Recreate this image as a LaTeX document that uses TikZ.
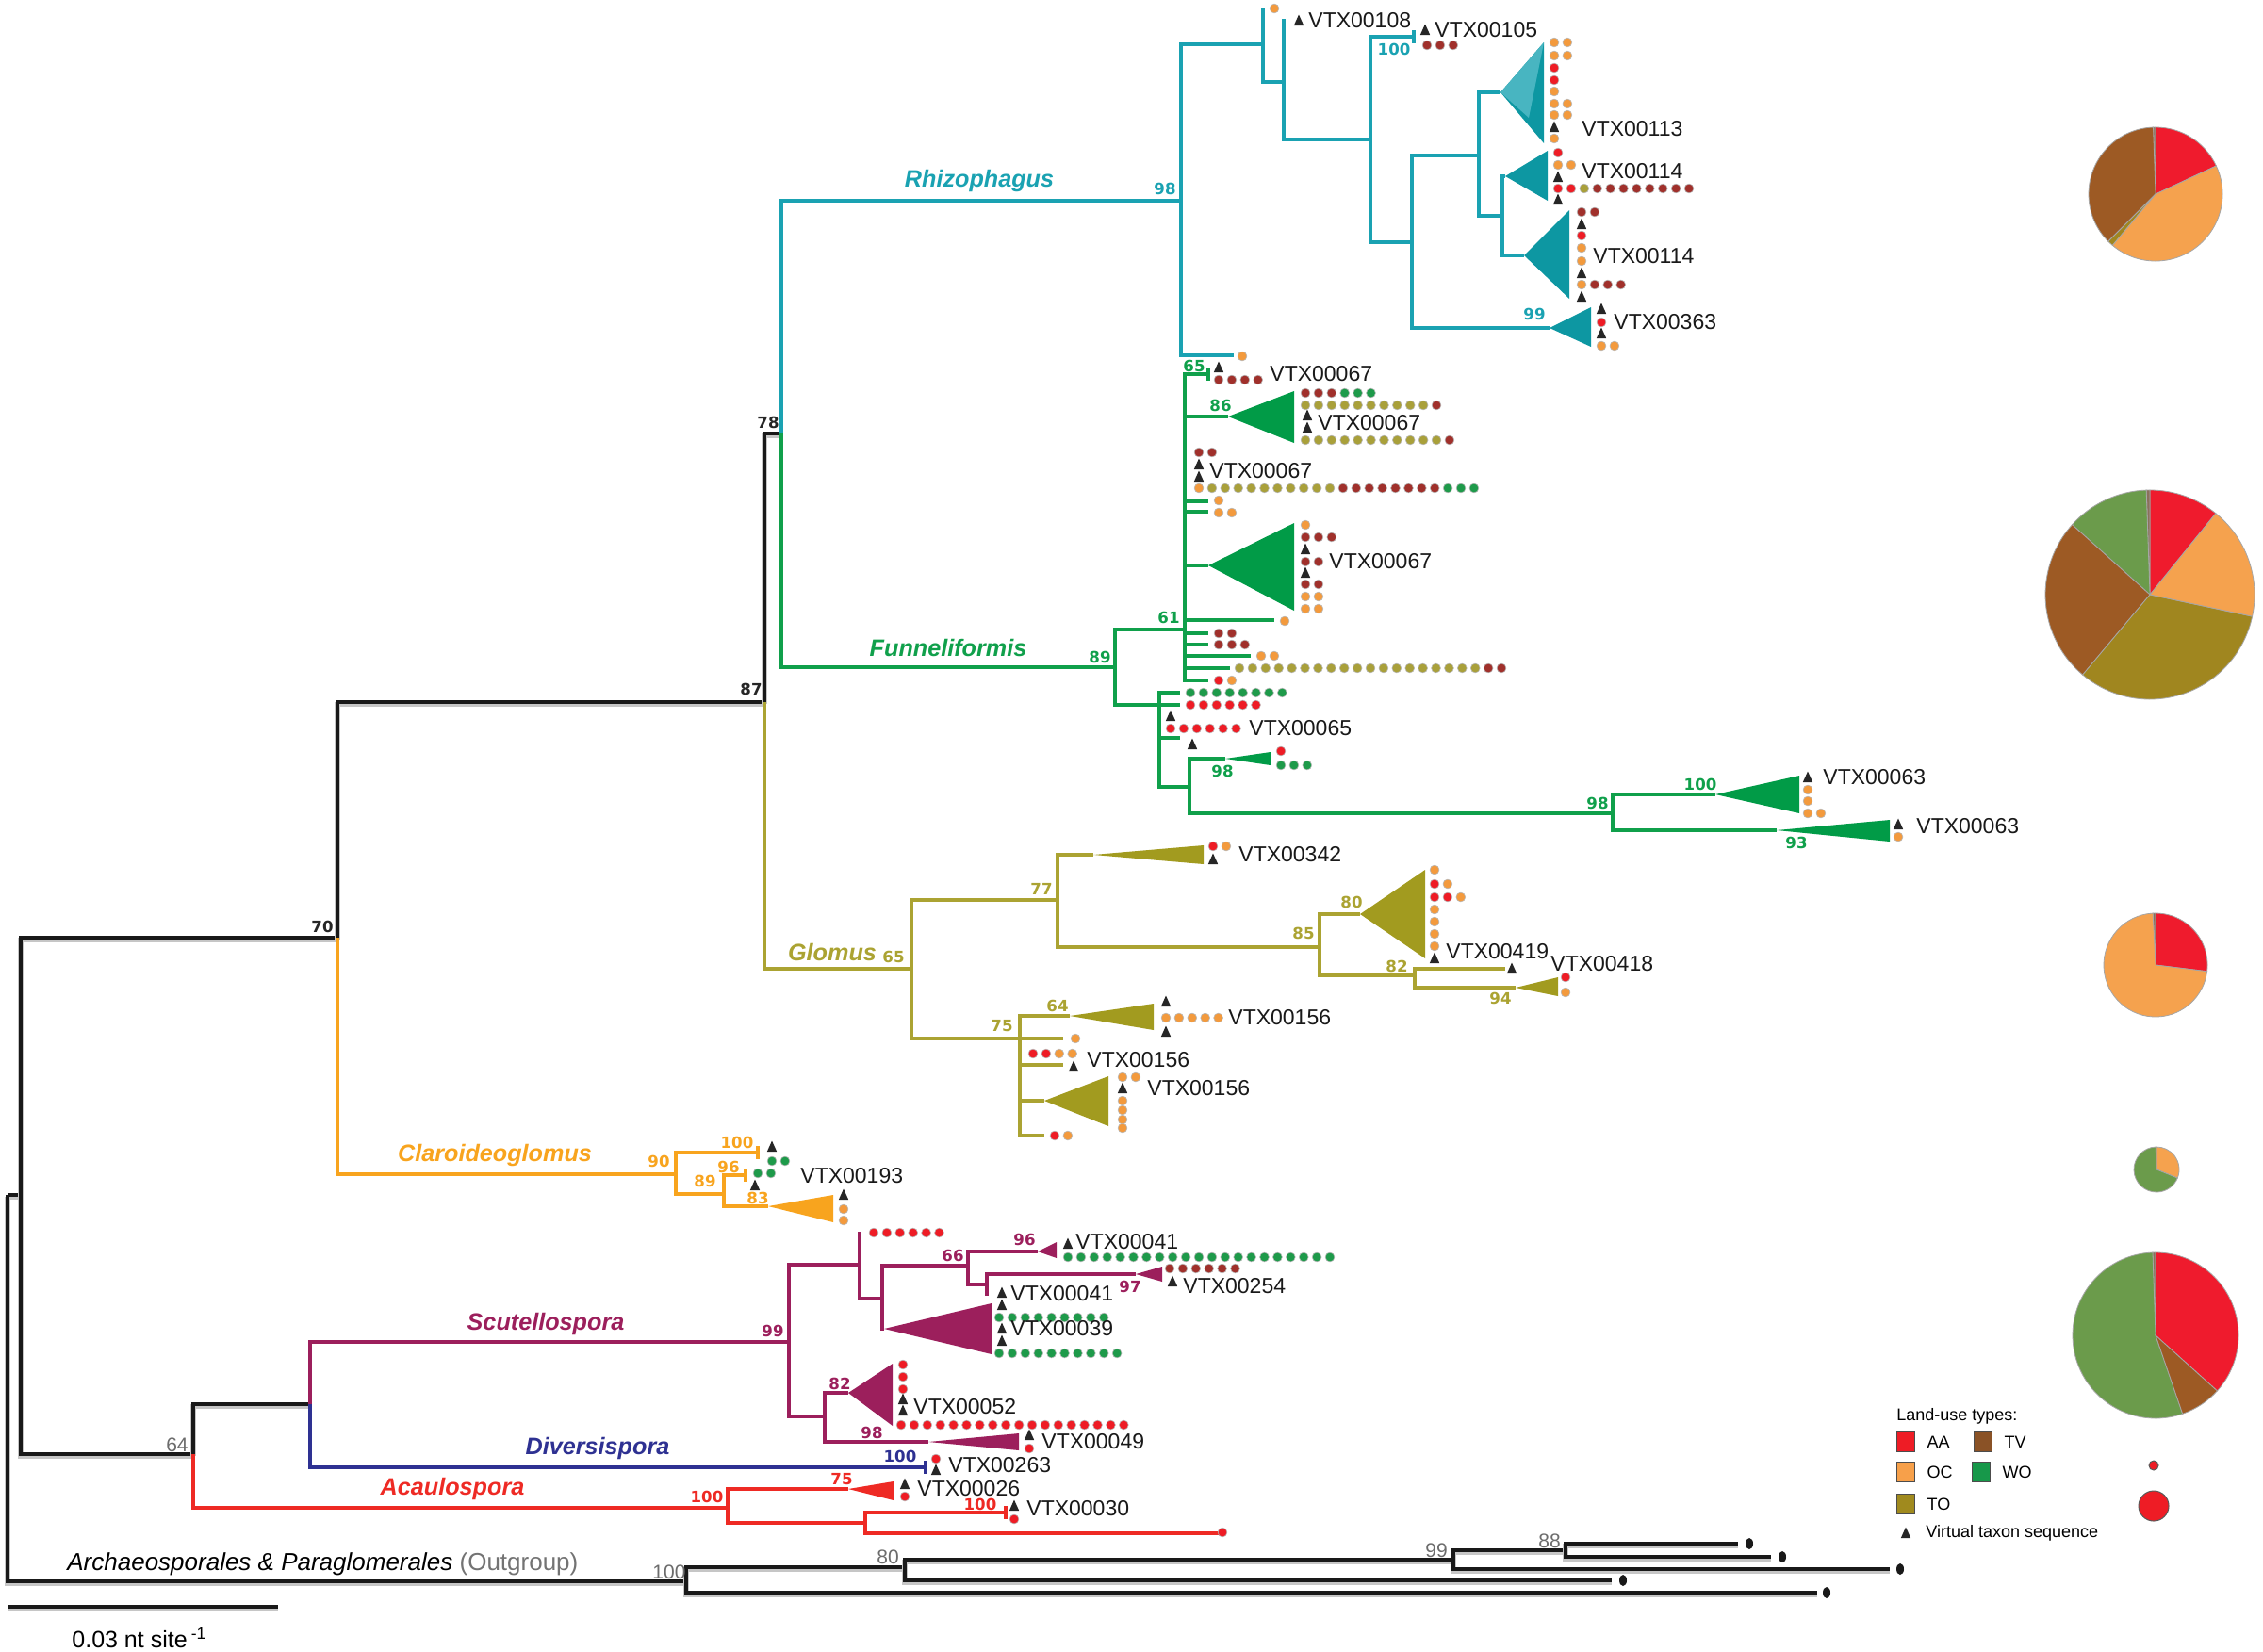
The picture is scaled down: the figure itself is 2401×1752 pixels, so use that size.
\documentclass[tikz,border=0pt]{standalone}
\usepackage{fontspec}
\setmainfont{Liberation Sans}
\newfontfamily\bsfont{DejaVu Sans}
\usetikzlibrary{positioning}

\definecolor{rhizo}{HTML}{1AA2B2}
\definecolor{rhizotri}{HTML}{0D97A2}
\definecolor{funnel}{HTML}{10A04B}
\definecolor{funneltri}{HTML}{019B47}
\definecolor{glom}{HTML}{ABA332}
\definecolor{glomtri}{HTML}{A29B1F}
\definecolor{claro}{HTML}{F8A41E}
\definecolor{scut}{HTML}{9C1F5C}
\definecolor{diver}{HTML}{2E3192}
\definecolor{acaul}{HTML}{EE2A24}
\definecolor{luA}{HTML}{EE1C25}
\definecolor{luO}{HTML}{F39A3D}
\definecolor{luT}{HTML}{A9A03A}
\definecolor{luV}{HTML}{A0302B}
\definecolor{luW}{HTML}{1E9A4A}
\definecolor{pieA}{HTML}{EF1B2D}
\definecolor{pieO}{HTML}{F5A24E}
\definecolor{pieT}{HTML}{A0861F}
\definecolor{pieV}{HTML}{9D5A24}
\definecolor{pieW}{HTML}{6B9B4B}
\definecolor{legTV}{HTML}{8A5226}
\definecolor{legOC}{HTML}{F7A04A}
\definecolor{legWO}{HTML}{17984A}
\definecolor{legTO}{HTML}{A08A1E}

% rows of land-use dots, triangles, collapsed clades, pie slices
\newcommand\seqs[3]{\foreach \col [count=\i from 0] in {#3}{\fill[\col,draw=gray!55,line width=.3pt] ({#1+13.9*\i},#2) circle (4.9);}}
\newcommand\seqrun[5]{\foreach \k in {1,...,#4}{\fill[#5,draw=gray!55,line width=.3pt] ({#1+13.9*(#3+\k-1)},#2) circle (4.9);}}
\newcommand\vt[2]{\fill[black!85] ({#1-5.2},{#2+5}) -- ({#1+5.2},{#2+5}) -- (#1,{#2-6.5}) -- cycle;}
\newcommand\clade[5]{\fill[#5] (#1) -- (#2,#3) -- (#2,#4) -- cycle;}
\newcommand\slice[6]{\fill[#6,draw=gray!70,line width=.4pt] (#1,#2) -- ++({-(#4)}:#3) arc[start angle={-(#4)},end angle={-(#5)},radius=#3] -- cycle;}

\begin{document}
\begin{tikzpicture}[x=0.5pt,y=-0.5pt,line join=miter,
  br/.style={line width=2pt},
  bk/.style={br,black!90,preaction={draw=gray!45,line width=2.6pt,transform canvas={yshift=-1.2pt}}},
  rh/.style={br,rhizo}, fu/.style={br,funnel}, gm/.style={br,glom}, cl/.style={br,claro},
  sc/.style={br,scut}, dv/.style={br,diver}, ac/.style={br,acaul},
  vtx/.style={anchor=west,inner sep=0pt,text=black!90,font=\fontsize{11.5}{12}\selectfont},
  bs/.style={inner sep=0pt,font=\bsfont\bfseries\fontsize{8.3}{9}\selectfont},
  genus/.style={inner sep=0pt,font=\bfseries\itshape\fontsize{12.6}{14}\selectfont},
  ogbs/.style={inner sep=0pt,text=gray!85!black,font=\fontsize{10.5}{11}\selectfont},
  legtxt/.style={inner sep=0pt,anchor=west,font=\fontsize{9}{10}\selectfont},
  legbox/.style={draw=gray!60!black,line width=.8pt,minimum width=9.5pt,minimum height=10.5pt,inner sep=0pt}]
\useasboundingbox (0,0) rectangle (2401,1752);
\fill[white] (0,0) rectangle (2401,1752);

% backbone
\coordinate (root) at (8,1268);
\coordinate (nA) at (22,1268);
\coordinate (n70) at (358,995);
\coordinate (n87) at (811,745);
\coordinate (n78) at (829,460);
\coordinate (n64) at (205,1543);
\coordinate (n63) at (329,1490);
% Rhizophagus
\coordinate (r98) at (1253,213);
\coordinate (ra) at (1340,47);
\coordinate (rtop) at (1340,8);
\coordinate (rb) at (1362,87);
\coordinate (r108) at (1362,20);
\coordinate (rc) at (1454,148);
\coordinate (r105) at (1500,39);
\coordinate (re) at (1498,257);
\coordinate (rf) at (1569,165);
\coordinate (r113) at (1592,98);
\coordinate (rg) at (1594,229);
\coordinate (r114a) at (1597,187);
\coordinate (r114b) at (1617,271);
\coordinate (r363) at (1644,348);
\coordinate (rbot) at (1309,377);
% Funneliformis
\coordinate (f89) at (1183,708);
\coordinate (f61) at (1257,668);
\coordinate (f65) at (1282,397);
\coordinate (f86) at (1303,442);
\coordinate (ft1) at (1282,532);
\coordinate (ft2) at (1282,543);
\coordinate (fbig) at (1282,600);
\coordinate (ft3) at (1352,658);
\coordinate (ft4) at (1282,672);
\coordinate (ft5) at (1282,684);
\coordinate (ft6) at (1327,696);
\coordinate (ft7) at (1305,709);
\coordinate (ft8) at (1282,722);
\coordinate (fx) at (1230,748);
\coordinate (ft9) at (1252,735);
\coordinate (ft10) at (1252,748);
\coordinate (ft11) at (1252,783);
\coordinate (fy) at (1262,835);
\coordinate (f98a) at (1300,805);
\coordinate (f98b) at (1711,863);
\coordinate (f100) at (1820,843);
\coordinate (f93) at (1885,881);
% Glomus
\coordinate (g65) at (967,1028);
\coordinate (g77) at (1122,955);
\coordinate (g342) at (1160,907);
\coordinate (g85) at (1400,1005);
\coordinate (g80) at (1443,970);
\coordinate (g82) at (1501,1035);
\coordinate (g418) at (1597,1028);
\coordinate (g94) at (1608,1048);
\coordinate (g75) at (1082,1102);
\coordinate (g64) at (1135,1078);
\coordinate (gt1) at (1128,1102);
\coordinate (gt2) at (1128,1130);
\coordinate (gtri) at (1108,1168);
\coordinate (gt3) at (1108,1205);
% Claroideoglomus
\coordinate (c90) at (717,1246);
\coordinate (c100) at (804,1223);
\coordinate (c89) at (768,1267);
\coordinate (c96) at (791,1247);
\coordinate (c83) at (815,1280);
% Scutellospora, Diversispora, Acaulospora
\coordinate (s99) at (837,1424);
\coordinate (s1) at (912,1342);
\coordinate (st1) at (912,1307);
\coordinate (s3) at (936,1378);
\coordinate (s66) at (1027,1343);
\coordinate (s96) at (1101,1328);
\coordinate (s4) at (1047,1363);
\coordinate (s97) at (1205,1352);
\coordinate (st2) at (1047,1375);
\coordinate (s39) at (938,1410);
\coordinate (s2) at (875,1503);
\coordinate (s82) at (900,1478);
\coordinate (s98) at (985,1530);
\coordinate (d100) at (982,1557);
\coordinate (a100) at (772,1600);
\coordinate (a75) at (900,1580);
\coordinate (a2) at (918,1616);
\coordinate (a100b) at (1067,1605);
\coordinate (at1) at (1295,1627);
% outgroup
\coordinate (o100) at (728,1678);
\coordinate (o80) at (960,1663);
\coordinate (o99) at (1542,1655);
\coordinate (o88) at (1661,1645);
\coordinate (ot1) at (1844,1638);
\coordinate (ot2) at (1879,1652);
\coordinate (ot3) at (2005,1665);
\coordinate (ot4) at (1710,1677);
\coordinate (ot5) at (1928,1690);

% branches
\foreach \p/\q in {root/nA,root/o100,nA/n70,nA/n64,n70/n87,n87/n78,n64/n63,
  o100/o80,o100/ot5,o80/o99,o80/ot4,o99/o88,o99/ot3,o88/ot1,o88/ot2}
  \draw[bk] (\p) |- (\q);
\foreach \p/\q in {n78/r98,r98/ra,r98/rbot,ra/rtop,ra/rb,rb/r108,rb/rc,rc/r105,rc/re,
  re/rf,re/r363,rf/r113,rf/rg,rg/r114a,rg/r114b}
  \draw[rh] (\p) |- (\q);
\foreach \p/\q in {n78/f89,f89/f61,f89/fx,f61/f65,f61/f86,f61/ft1,f61/ft2,f61/fbig,f61/ft3,
  f61/ft4,f61/ft5,f61/ft6,f61/ft7,f61/ft8,fx/ft9,fx/ft10,fx/ft11,fx/fy,fy/f98a,fy/f98b,
  f98b/f100,f98b/f93}
  \draw[fu] (\p) |- (\q);
\foreach \p/\q in {n87/g65,g65/g77,g65/g75,g77/g342,g77/g85,g85/g80,g85/g82,g82/g418,
  g82/g94,g75/g64,g75/gt1,g75/gt2,g75/gtri,g75/gt3}
  \draw[gm] (\p) |- (\q);
\foreach \p/\q in {n70/c90,c90/c100,c90/c89,c89/c96,c89/c83}
  \draw[cl] (\p) |- (\q);
\foreach \p/\q in {n63/s99,s99/s1,s99/s2,s1/st1,s1/s3,s3/s66,s3/s39,s66/s96,s66/s4,
  s4/s97,s4/st2,s2/s82,s2/s98}
  \draw[sc] (\p) |- (\q);
\draw[dv] (n63) |- (d100);
\foreach \p/\q in {n64/a100,a100/a75,a100/a2,a2/a100b,a2/at1}
  \draw[ac] (\p) |- (\q);

% zero-length ends
\draw[rh] (r105) ++(0,-7) -- ++(0,14);
\draw[fu] (f65) ++(0,-7) -- ++(0,14);
\draw[cl] (c100) ++(0,-7) -- ++(0,14);
\draw[cl] (c96) ++(0,-7) -- ++(0,14);
\draw[dv] (d100) ++(0,-7) -- ++(0,14);
\draw[ac] (a100b) ++(0,-7) -- ++(0,14);

% collapsed clades
\clade{r113}{1638}{45}{152}{rhizotri}
\fill[rhizo!80!white] (r113) -- (1638,45) -- (1622,125) -- cycle;
\clade{r114a}{1642}{160}{213}{rhizotri}
\clade{r114b}{1665}{223}{317}{rhizotri}
\clade{r363}{1688}{326}{368}{rhizotri}
\clade{f86}{1373}{415}{470}{funneltri}
\clade{fbig}{1373}{555}{648}{funneltri}
\clade{f98a}{1348}{798}{812}{funneltri}
\clade{f100}{1909}{823}{863}{funneltri}
\clade{f93}{2005}{870}{893}{funneltri}
\clade{g342}{1277}{897}{917}{glomtri}
\clade{g80}{1512}{923}{1017}{glomtri}
\clade{g94}{1653}{1037}{1057}{glomtri}
\clade{g64}{1224}{1065}{1093}{glomtri}
\clade{gtri}{1176}{1142}{1195}{glomtri}
\clade{c83}{884}{1268}{1297}{claro}
\clade{s96}{1121}{1318}{1335}{scut}
\clade{s97}{1233}{1344}{1360}{scut}
\clade{s39}{1052}{1383}{1437}{scut}
\clade{s82}{947}{1447}{1513}{scut}
\clade{s98}{1081}{1521}{1539}{scut}
\clade{a75}{948}{1572}{1592}{acaul}

% Rhizophagus tips
\seqs{1352}{9}{luO}
\vt{1378}{22}
\vt{1512}{32}
\seqs{1514}{48}{luV,luV,luV}
\seqs{1649}{45}{luO,luO}
\seqs{1649}{59}{luO,luO}
\seqs{1649}{72}{luA}
\seqs{1649}{85}{luA}
\seqs{1649}{97}{luO}
\seqs{1649}{110}{luO,luO}
\seqs{1649}{122}{luO,luO}
\vt{1649}{135}
\seqs{1649}{147}{luO}
\seqs{1653}{162}{luA}
\seqs{1653}{175}{luO,luO}
\vt{1653}{188}
\seqs{1653}{200}{luA,luA,luT,luV,luV,luV,luV,luV,luV,luV,luV}
\vt{1653}{212}
\seqs{1678}{225}{luV,luV}
\vt{1678}{238}
\seqs{1678}{250}{luA}
\seqs{1678}{263}{luO}
\seqs{1678}{277}{luO}
\vt{1678}{290}
\seqs{1678}{302}{luO,luV,luV,luV}
\vt{1678}{315}
\vt{1699}{328}
\seqs{1699}{342}{luA}
\vt{1699}{354}
\seqs{1699}{367}{luO,luO}
\seqs{1318}{378}{luO}

% Funneliformis tips
\vt{1293}{390}
\seqs{1293}{403}{luV,luV,luV,luV}
\seqs{1385}{417}{luV,luV,luV,luW,luW,luW}
\seqrun{1385}{430}{0}{10}{luT}\seqrun{1385}{430}{10}{1}{luV}
\vt{1387}{441}
\vt{1387}{454}
\seqrun{1385}{467}{0}{11}{luT}\seqrun{1385}{467}{11}{1}{luV}
\seqs{1272}{480}{luV,luV}
\vt{1272}{493}
\vt{1272}{506}
\seqs{1272}{518}{luO}\seqrun{1272}{518}{1}{10}{luT}\seqrun{1272}{518}{11}{8}{luV}\seqrun{1272}{518}{19}{3}{luW}
\seqs{1293}{531}{luO}
\seqs{1293}{544}{luO,luO}
\seqs{1385}{557}{luO}
\seqs{1385}{570}{luV,luV,luV}
\vt{1385}{583}
\seqs{1385}{596}{luV,luV}
\vt{1385}{608}
\seqs{1385}{620}{luV,luV}
\seqs{1385}{633}{luO,luO}
\seqs{1385}{646}{luO,luO}
\seqs{1363}{659}{luO}
\seqs{1293}{672}{luV,luV}
\seqs{1293}{684}{luV,luV,luV}
\seqs{1338}{696}{luO,luO}
\seqrun{1315}{709}{0}{19}{luT}\seqrun{1315}{709}{19}{2}{luV}
\seqs{1293}{722}{luA,luO}
\seqrun{1263}{735}{0}{8}{luW}
\seqrun{1263}{748}{0}{6}{luA}
\vt{1242}{760}
\seqrun{1242}{773}{0}{6}{luA}
\vt{1265}{790}
\seqs{1359}{797}{luA}
\seqs{1359}{812}{luW,luW,luW}
\vt{1918}{825}
\seqs{1918}{838}{luO}
\seqs{1918}{850}{luO}
\seqs{1918}{863}{luO,luO}
\vt{2014}{875}
\seqs{2014}{888}{luO}

% Glomus tips
\seqs{1287}{898}{luA,luO}
\vt{1287}{912}
\seqs{1522}{923}{luO}
\seqs{1522}{938}{luA,luO}
\seqs{1522}{952}{luA,luA,luO}
\seqs{1522}{965}{luO}
\seqs{1522}{978}{luO}
\seqs{1522}{991}{luO}
\seqs{1522}{1004}{luO}
\vt{1522}{1017}
\vt{1604}{1028}
\seqs{1661}{1037}{luA}
\seqs{1661}{1053}{luO}
\vt{1237}{1063}
\seqrun{1237}{1080}{0}{5}{luO}
\vt{1237}{1095}
\seqs{1141}{1102}{luO}
\seqs{1096}{1118}{luA,luA,luO,luO}
\vt{1139}{1132}
\seqs{1191}{1143}{luO,luO}
\vt{1191}{1155}
\seqs{1191}{1168}{luO}
\seqs{1191}{1178}{luO}
\seqs{1191}{1188}{luO}
\seqs{1191}{1197}{luO}
\seqs{1119}{1205}{luA,luO}

% Claroideoglomus tips
\vt{819}{1217}
\seqs{819}{1232}{luW,luW}
\seqs{804}{1245}{luW,luW}
\vt{801}{1258}
\vt{895}{1268}
\seqs{895}{1283}{luO}
\seqs{895}{1295}{luO}

% Scutellospora, Diversispora, Acaulospora tips
\seqrun{927}{1308}{0}{6}{luA}
\vt{1133}{1320}
\seqrun{1133}{1334}{0}{21}{luW}
\seqrun{1241}{1346}{0}{6}{luV}
\vt{1244}{1360}
\vt{1063}{1372}
\vt{1063}{1385}
\seqrun{1060}{1398}{0}{9}{luW}
\vt{1063}{1410}
\vt{1063}{1423}
\seqrun{1060}{1436}{0}{10}{luW}
\seqs{958}{1448}{luA}
\seqs{958}{1461}{luA}
\seqs{958}{1474}{luA}
\vt{958}{1485}
\vt{958}{1497}
\seqrun{956}{1512}{0}{18}{luA}
\vt{1092}{1523}
\seqs{1092}{1537}{luA}
\seqs{993}{1548}{luA}
\vt{993}{1560}
\vt{960}{1575}
\seqs{960}{1588}{luA}
\vt{1076}{1598}
\seqs{1076}{1612}{luA}
\seqs{1297}{1626}{luA}
\foreach \x/\y in {1856/1638,1891/1652,2016/1665,1722/1677,1938/1690}
  \fill[black!90] (\x,\y) ellipse (4 and 6);

% virtual taxa
\foreach \n/\x/\y/\t in {v108/1388/22/VTX00108,v105/1522/32/VTX00105,v113/1678/137/VTX00113,
  v114a/1678/182/VTX00114,v114b/1690/272/VTX00114,v363/1712/342/VTX00363,
  v067a/1347/397/VTX00067,v067b/1398/449/VTX00067,v067c/1283/500/VTX00067,v067d/1410/596/VTX00067,
  v065/1325/773/VTX00065,v063a/1934/825/VTX00063,v063b/2033/877/VTX00063,
  v342/1314/907/VTX00342,v419/1534/1010/VTX00419,v418/1645/1023/VTX00418,
  v156a/1303/1080/VTX00156,v156b/1153/1125/VTX00156,v156c/1217/1155/VTX00156,
  v193/849/1248/VTX00193,v041a/1141/1318/VTX00041,v254/1255/1365/VTX00254,
  v041b/1072/1373/VTX00041,v039/1072/1410/VTX00039,v052/969/1493/VTX00052,
  v049/1105/1530/VTX00049,v263/1006/1555/VTX00263,v026/973/1580/VTX00026,v030/1089/1601/VTX00030}
  \node[vtx] (\n) at (\x,\y) {\t};

% bootstrap values
\foreach \n/\x/\y/\t in {b98r/1236/200/98,b100r/1479/52/100,b99r/1628/333/99}
  \node[bs,text=rhizo] (\n) at (\x,\y) {\t};
\foreach \n/\x/\y/\t in {b65f/1267/388/65,b86f/1295/430/86,b61f/1240/655/61,b89f/1167/697/89,
  b98f/1297/818/98,b98g/1695/852/98,b100f/1804/832/100,b93f/1906/894/93}
  \node[bs,text=funnel] (\n) at (\x,\y) {\t};
\foreach \n/\x/\y/\t in {b65g/948/1015/65,b77g/1105/943/77,b85g/1383/990/85,b80g/1434/957/80,
  b82g/1482/1025/82,b94g/1592/1059/94,b64g/1122/1067/64,b75g/1063/1089/75}
  \node[bs,text=glom] (\n) at (\x,\y) {\t};
\foreach \n/\x/\y/\t in {b90c/699/1232/90,b100c/782/1212/100,b89c/748/1253/89,b96c/773/1238/96,b83c/804/1271/83}
  \node[bs,text=claro] (\n) at (\x,\y) {\t};
\foreach \n/\x/\y/\t in {b99s/820/1412/99,b66s/1011/1332/66,b96s/1087/1315/96,b97s/1199/1365/97,
  b82s/891/1468/82,b98s/925/1520/98}
  \node[bs,text=scut] (\n) at (\x,\y) {\t};
\node[bs,text=diver] (b100d) at (955,1545) {100};
\foreach \n/\x/\y/\t in {b100a/750/1588/100,b75a/893/1570/75,b100b/1040/1596/100}
  \node[bs,text=acaul] (\n) at (\x,\y) {\t};
\foreach \n/\x/\y/\t in {b70/342/983/70,b87/797/731/87,b78/815/448/78}
  \node[bs,text=black!85] (\n) at (\x,\y) {\t};
\foreach \n/\x/\y/\t in {b64/188/1533/64,o100l/710/1668/100,o80l/942/1652/80,o99l/1524/1645/99,o88l/1644/1635/88}
  \node[ogbs] (\n) at (\x,\y) {\t};

% genera
\node[genus,text=rhizo] (gRhi) at (1039,192) {Rhizophagus};
\node[genus,text=funnel] (gFun) at (1006,687) {Funneliformis};
\node[genus,text=glom] (gGlo) at (883,1010) {Glomus};
\node[genus,text=claro] (gCla) at (525,1226) {Claroideoglomus};
\node[genus,text=scut] (gScu) at (579,1405) {Scutellospora};
\node[genus,text=diver] (gDiv) at (634,1537) {Diversispora};
\node[genus,text=acaul] (gAca) at (480,1580) {Acaulospora};
\node[anchor=west,inner sep=0pt,text=black,font=\fontsize{13}{14}\selectfont] (gOut) at (71,1660)
  {\textit{Archaeosporales \& Paraglomerales} \textcolor{gray!90!black}{(Outgroup)}};

% scale bar
\coordinate (sbL) at (9,1705);
\coordinate (sbR) at (295,1705);
\draw[bk] (sbL) -- (sbR);
\node[anchor=west,inner sep=0pt,font=\fontsize{12.5}{13}\selectfont] (sbLab) at (76,1738) {0.03 nt site\,\textsuperscript{-1}};

% pies
\slice{2287}{206}{71}{25}{90}{pieA}
\slice{2287}{206}{71}{90}{92}{gray!60!pieV}
\slice{2287}{206}{71}{92}{225}{pieV}
\slice{2287}{206}{71}{225}{230}{pieT}
\slice{2287}{206}{71}{230}{385}{pieO}
\slice{2281}{631}{111}{51}{90}{pieA}
\slice{2281}{631}{111}{90}{92}{gray!60!pieV}
\slice{2281}{631}{111}{92}{138}{pieW}
\slice{2281}{631}{111}{138}{230}{pieV}
\slice{2281}{631}{111}{230}{348}{pieT}
\slice{2281}{631}{111}{348}{411}{pieO}
\slice{2287}{1024}{55}{-7}{90}{pieA}
\slice{2287}{1024}{55}{90}{93}{gray!60!pieV}
\slice{2287}{1024}{55}{93}{353}{pieO}
\slice{2288}{1241}{24}{-22}{90}{pieO}
\slice{2288}{1241}{24}{90}{92}{gray!60!pieV}
\slice{2288}{1241}{24}{92}{338}{pieW}
\slice{2287}{1417}{88}{-42}{90}{pieA}
\slice{2287}{1417}{88}{90}{92}{gray!60!pieV}
\slice{2287}{1417}{88}{92}{289}{pieW}
\slice{2287}{1417}{88}{289}{318}{pieV}

% legend
\node[legtxt] (lTitle) at (2012,1503) {Land-use types:};
\node[legbox,fill=luA] (kAA) at (2022,1530) {};
\node[legtxt,right=6pt of kAA] (tAA) {AA};
\node[legbox,fill=legTV] (kTV) at (2104,1530) {};
\node[legtxt,right=6pt of kTV] (tTV) {TV};
\node[legbox,fill=legOC] (kOC) at (2022,1562) {};
\node[legtxt,right=6pt of kOC] (tOC) {OC};
\node[legbox,fill=legWO] (kWO) at (2102,1562) {};
\node[legtxt,right=6pt of kWO] (tWO) {WO};
\node[legbox,fill=legTO] (kTO) at (2022,1596) {};
\node[legtxt,right=6pt of kTO] (tTO) {TO};
\vt{2022}{1627}
\node[legtxt] (tVT) at (2043,1627) {Virtual taxon sequence};
\fill[luA,draw=gray!70!black,line width=.5pt] (2285,1555) circle (5);
\fill[luA,draw=gray!70!black,line width=.5pt] (2285,1598) circle (16);
\end{tikzpicture}
\end{document}
